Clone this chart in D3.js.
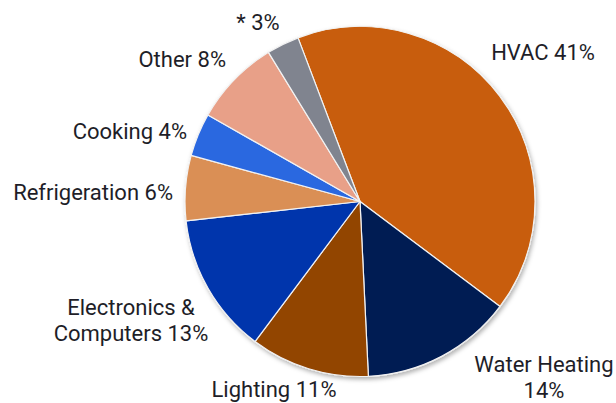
<!DOCTYPE html>
<html>
<head>
<meta charset="utf-8">
<script src="https://cdn.jsdelivr.net/npm/d3@7/dist/d3.min.js"></script>
<style>
  html, body { margin: 0; padding: 0; background: #fff; }
  svg { display: block; }
</style>
</head>
<body>
<svg id="chart" width="616" height="403"></svg>
<script>
const categories = ["HVAC", "Water Heating", "Lighting", "Electronics & Computers", "Refrigeration", "Cooking", "Other", "*"];
const values = [41, 14, 11, 13, 6, 4, 8, 3];
const colors = ["#C85D0A", "#001B52", "#924505", "#0035AC", "#DA8F55", "#2A67E0", "#E8A088", "#80848F"];
const labelLines = [["HVAC 41%"], ["Water Heating", "14%"], ["Lighting 11%"], ["Electronics &", "Computers 13%"], ["Refrigeration 6%"], ["Cooking 4%"], ["Other 8%"], ["* 3%"]];
const labelPos = [[543, 60, "middle"], [544, 372, "middle"], [274, 397, "middle"], [131, 315, "middle"], [173, 200, "end"], [187, 139, "end"], [226, 67, "end"], [258, 30, "middle"]];

const svg = d3.select("#chart");
const cx = 360, cy = 201.5, r = 175;

const defs = svg.append("defs");
const f = defs.append("filter").attr("id", "shadow").attr("x", "-10%").attr("y", "-10%").attr("width", "120%").attr("height", "120%");
f.append("feDropShadow").attr("dx", 1.5).attr("dy", 2.5).attr("stdDeviation", 2).attr("flood-color", "#000").attr("flood-opacity", 0.3);

const pie = d3.pie().sort(null).value(d => d).startAngle(-0.362).endAngle(-0.362 + 2 * Math.PI);
const arc = d3.arc().innerRadius(0).outerRadius(r);

const g = svg.append("g").attr("transform", `translate(${cx},${cy})`);
g.append("g").attr("filter", "url(#shadow)")
  .selectAll("path")
  .data(pie(values))
  .join("path")
  .attr("d", arc)
  .attr("fill", (d, i) => colors[i])
  .attr("stroke", "#f2f2f2")
  .attr("stroke-width", 1.2)
  .attr("stroke-linejoin", "round");

const labels = svg.append("g")
  .attr("font-family", "Roboto, 'Liberation Sans', sans-serif")
  .attr("font-size", 22)
  .attr("fill", "#1e1e28");

labelLines.forEach((lines, i) => {
  const [x, y, anchor] = labelPos[i];
  const t = labels.append("text").attr("x", x).attr("y", y).attr("text-anchor", anchor);
  lines.forEach((ln, j) => {
    t.append("tspan").attr("x", x).attr("dy", j === 0 ? 0 : 26).text(ln);
  });
});
</script>
</body>
</html>
